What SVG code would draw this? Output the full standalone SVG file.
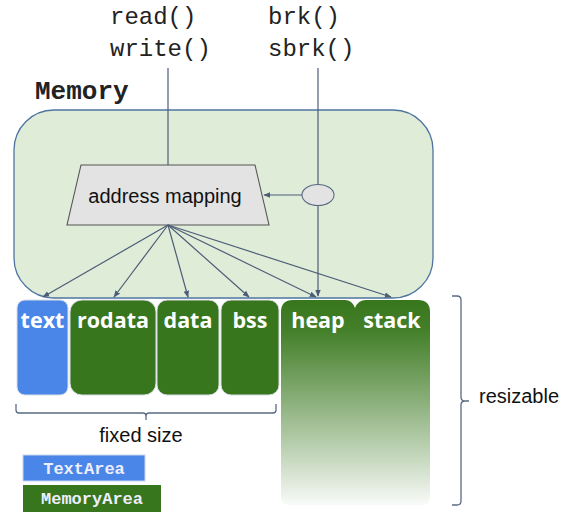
<svg xmlns="http://www.w3.org/2000/svg" width="561" height="512" viewBox="0 0 561 512">
  <style>
    .mono { font-family: "Liberation Mono", "Courier New", monospace; fill: #222; }
    .sans { font-family: "Liberation Sans", Arial, sans-serif; fill: #111; }
    .seg { font-family: "Open Sans", "Noto Sans", sans-serif; font-weight: bold; font-size: 21.5px; fill: #fff; text-anchor: middle; }
    .wire { stroke: #4d5d78; stroke-width: 1.2; fill: none; }
    .arrow { stroke: #4d5d78; stroke-width: 1.2; fill: none; marker-end: url(#head); }
    .bracket { stroke: #5a6a84; stroke-width: 1.3; fill: none; }
    .legend { font-family: "Liberation Mono", "Courier New", monospace; font-weight: bold; font-size: 17px; fill: #eef; text-anchor: middle; }
  </style>
  <defs>
    <marker id="head" viewBox="0 0 10 10" refX="9" refY="5" markerWidth="7" markerHeight="7" orient="auto" markerUnits="userSpaceOnUse">
      <path d="M0,1 L10,5 L0,9 z" fill="#4d5d78"/>
    </marker>
    <linearGradient id="grow" x1="0" y1="300" x2="0" y2="505" gradientUnits="userSpaceOnUse">
      <stop offset="0" stop-color="#38761d"/>
      <stop offset="0.15" stop-color="#44802a"/>
      <stop offset="1" stop-color="#38761d" stop-opacity="0.03"/>
    </linearGradient>
  </defs>

  <!-- system calls -->
  <g id="calls">
    <text class="mono" x="110" y="24" font-size="24">read()</text>
    <text class="mono" x="110" y="56" font-size="24">write()</text>
    <text class="mono" x="268" y="24" font-size="24">brk()</text>
    <text class="mono" x="268" y="56" font-size="24">sbrk()</text>
  </g>

  <!-- memory container -->
  <g id="memory">
    <text class="mono" x="35" y="99" font-size="26" font-weight="bold">Memory</text>
    <rect x="14" y="110" width="419" height="188" rx="40" ry="40" fill="#dfedd8" stroke="#4f74a0" stroke-width="1.3"/>
  </g>

  <g id="mapping">
    <polygon points="81,165 255,165 269,225 67,225" fill="#e3e3e3" stroke="#555" stroke-width="1.1"/>
    <text class="sans" x="165" y="203" font-size="20" text-anchor="middle">address mapping</text>
  </g>

  <g id="junction">
    <ellipse cx="318" cy="195" rx="16" ry="10.5" fill="#e3e3e3" stroke="#5a6a84" stroke-width="1.1"/>
  </g>

  <!-- connectors -->
  <g id="connectors">
    <line class="wire" x1="168" y1="68" x2="168" y2="165"/>
    <line class="wire" x1="318" y1="68" x2="318" y2="184.5"/>
    <line class="arrow" x1="318" y1="205.5" x2="318" y2="296"/>
    <line class="arrow" x1="302" y1="195" x2="264" y2="195"/>
    <line class="arrow" x1="168" y1="225" x2="43" y2="297"/>
    <line class="arrow" x1="168" y1="225" x2="114" y2="297"/>
    <line class="arrow" x1="168" y1="225" x2="188" y2="297"/>
    <line class="arrow" x1="168" y1="225" x2="249" y2="297"/>
    <line class="arrow" x1="168" y1="225" x2="316" y2="297"/>
    <line class="arrow" x1="168" y1="225" x2="391" y2="297"/>
  </g>

  <!-- segments -->
  <g id="seg-text">
    <rect x="17" y="300" width="51" height="95" rx="8" fill="#4a86e8" stroke="#d8dde6" stroke-width="1"/>
    <text class="seg" x="42.5" y="328">text</text>
  </g>
  <g id="seg-rodata">
    <rect x="70" y="300" width="86" height="95" rx="12" fill="#38761d" stroke="#d8dde6" stroke-width="1"/>
    <text class="seg" x="113" y="328">rodata</text>
  </g>
  <g id="seg-data">
    <rect x="157" y="300" width="62" height="95" rx="10" fill="#38761d" stroke="#d8dde6" stroke-width="1"/>
    <text class="seg" x="188" y="328">data</text>
  </g>
  <g id="seg-bss">
    <rect x="221" y="300" width="58" height="95" rx="10" fill="#38761d" stroke="#d8dde6" stroke-width="1"/>
    <text class="seg" x="250" y="328">bss</text>
  </g>
  <g id="seg-heap">
    <path d="M281,312 Q281,300 293,300 L345,300 Q352,300 355,308 L355,505 L289,505 Q281,505 281,497 Z" fill="url(#grow)"/>
    <text class="seg" x="318" y="328">heap</text>
  </g>
  <g id="seg-stack">
    <path d="M355,308 Q358,300 366,300 L418,300 Q430,300 430,312 L430,497 Q430,505 422,505 L355,505 Z" fill="url(#grow)"/>
    <text class="seg" x="392" y="328">stack</text>
  </g>

  <!-- fixed size bracket -->
  <g id="fixed">
    <path class="bracket" d="M16,404 L16,410 Q16,413 19,413 L143,413 Q146,413 146,416 L146,420 M146,416 Q146,413 149,413 L273,413 Q276,413 276,410 L276,404"/>
    <text class="sans" x="141" y="442" font-size="20" text-anchor="middle">fixed size</text>
  </g>

  <!-- resizable bracket -->
  <g id="resizable">
    <path class="bracket" d="M452,296 L457,296 Q461,296 461,300 L461,397 Q461,401 465,401 L469,401 M465,401 Q461,401 461,405 L461,501 Q461,505 457,505 L452,505"/>
    <text class="sans" x="479" y="403" font-size="20">resizable</text>
  </g>

  <!-- legend -->
  <g id="legend-text">
    <rect x="23" y="455" width="122" height="26" fill="#4a86e8" stroke="#c9d6ee" stroke-width="1"/>
    <text class="legend" x="84" y="474">TextArea</text>
  </g>
  <g id="legend-memory">
    <rect x="23" y="485" width="138" height="27" fill="#38761d"/>
    <text class="legend" x="92" y="504">MemoryArea</text>
  </g>
</svg>
